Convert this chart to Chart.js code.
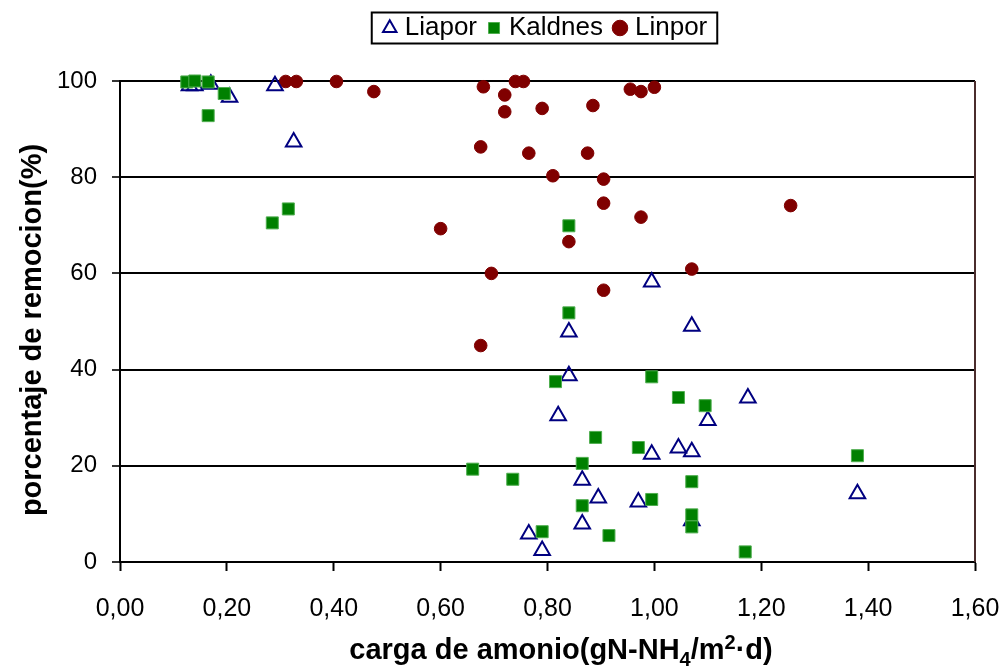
<!DOCTYPE html>
<html>
<head>
<meta charset="utf-8">
<script src="https://cdn.jsdelivr.net/npm/chart.js@4.4.1/dist/chart.umd.min.js"></script>
<style>
  html, body { margin: 0; padding: 0; background: #fff; }
  #wrap { width: 1005px; height: 668px; }
</style>
</head>
<body>
<div id="wrap"><canvas id="removalChart" width="1005" height="668"></canvas></div>
<script>
// Ammonium load (gN-NH4/m2.d) vs removal (%) per carrier
const liaporX = [0.13, 0.14, 0.17, 0.205, 0.29, 0.325, 0.765, 0.79, 0.82, 0.84, 0.84, 0.865, 0.865, 0.895, 0.97, 0.995, 0.995, 1.045, 1.07, 1.07, 1.07, 1.10, 1.175, 1.38];
const liaporY = [99, 99, 99.3, 96.6, 99, 87.3, 5.8, 2.4, 30.4, 47.8, 38.7, 17, 7.9, 13.3, 12.5, 58.2, 22.4, 23.7, 49, 22.9, 8.6, 29.4, 34.1, 14.2];

const kaldnesX = [0.125, 0.14, 0.165, 0.195, 0.165, 0.285, 0.315, 0.66, 0.735, 0.79, 0.815, 0.84, 0.84, 0.865, 0.865, 0.89, 0.915, 0.97, 0.995, 0.995, 1.045, 1.07, 1.07, 1.07, 1.095, 1.17, 1.38];
const kaldnesY = [99.8, 100, 99.8, 97.4, 92.8, 70.5, 73.4, 19.3, 17.2, 6.3, 37.5, 69.9, 51.8, 20.5, 11.7, 25.9, 5.5, 23.8, 38.5, 13.0, 34.2, 16.7, 9.8, 7.3, 32.5, 2.1, 22.1];

const linporX = [0.31, 0.33, 0.405, 0.475, 0.60, 0.675, 0.675, 0.68, 0.695, 0.72, 0.72, 0.74, 0.755, 0.765, 0.79, 0.81, 0.84, 0.875, 0.885, 0.905, 0.905, 0.905, 0.955, 0.975, 0.975, 1.00, 1.07, 1.255];
const linporY = [99.9, 99.9, 99.9, 97.8, 69.3, 86.3, 45.0, 98.8, 60.0, 97.1, 93.6, 99.9, 99.9, 85.0, 94.3, 80.3, 66.6, 85.0, 94.9, 79.6, 74.6, 56.5, 98.3, 97.8, 71.7, 98.7, 60.9, 74.1];

const xMin = 0, xMax = 1.6, xStep = 0.2;
const yMin = 0, yMax = 100, yStep = 20;

const xTitle = [
  { text: "carga de amonio(gN-NH", shift: 0 },
  { text: "4", shift: 7 },
  { text: "/m", shift: 0 },
  { text: "2", shift: -10 },
  { text: "\u00B7d)", shift: 0 },
];
const yTitle = "porcentaje de remocion(%)";

const FONT = "'Liberation Sans', Arial, sans-serif";

function toPoints(xs, ys) {
  return xs.map((x, i) => ({ x: x, y: ys[i] }));
}

// legend takes the whole band above the plot
const legendBand = {
  id: "legendBand",
  beforeInit(chart) {
    const fit = chart.legend.fit;
    chart.legend.fit = function () {
      fit.call(this);
      this.height = 81;
    };
  },
};

// legend frame, right border and both axis titles
const decorations = {
  id: "decorations",
  afterDraw(chart) {
    const ctx = chart.ctx;
    const area = chart.chartArea;
    const boxes = chart.legend.legendHitBoxes;
    ctx.save();

    if (boxes && boxes.length) {
      const first = boxes[0];
      const last = boxes[boxes.length - 1];
      const midY = first.top + first.height / 2;
      ctx.strokeStyle = "#000";
      ctx.lineWidth = 2;
      ctx.strokeRect(first.left - 16, midY - 15.5, last.left + last.width + 10 - (first.left - 16), 31);
    }

    ctx.strokeStyle = "#4a2c2c";
    ctx.lineWidth = 2;
    ctx.beginPath();
    ctx.moveTo(area.right, area.top);
    ctx.lineTo(area.right, area.bottom);
    ctx.stroke();

    // x title with subscript / superscript pieces
    ctx.fillStyle = "#000";
    ctx.textBaseline = "alphabetic";
    ctx.textAlign = "left";
    const big = "bold 29px " + FONT;
    const small = "bold 20px " + FONT;
    let total = 0;
    xTitle.forEach((p) => {
      ctx.font = p.shift ? small : big;
      total += ctx.measureText(p.text).width;
    });
    let x = 561 - total / 2;
    xTitle.forEach((p) => {
      ctx.font = p.shift ? small : big;
      ctx.fillText(p.text, x, 659 + p.shift);
      x += ctx.measureText(p.text).width;
    });

    ctx.translate(33, 330);
    ctx.rotate(-Math.PI / 2);
    ctx.font = big;
    ctx.textAlign = "center";
    ctx.textBaseline = "middle";
    ctx.fillText(yTitle, 0, 0);
    ctx.restore();
  },
};

new Chart(document.getElementById("removalChart"), {
  type: "scatter",
  data: {
    datasets: [
      {
        label: "Liapor",
        data: toPoints(liaporX, liaporY),
        pointStyle: "triangle",
        pointRadius: 9,
        borderColor: "#000080",
        backgroundColor: "rgba(0, 0, 0, 0)",
        borderWidth: 2,
        order: 1,
      },
      {
        label: "Kaldnes",
        data: toPoints(kaldnesX, kaldnesY),
        pointStyle: "rect",
        pointRadius: 8.5,
        borderColor: "#4fae4f",
        backgroundColor: "#008000",
        borderWidth: 1,
        order: 0,
      },
      {
        label: "Linpor",
        data: toPoints(linporX, linporY),
        pointStyle: "circle",
        pointRadius: 6.3,
        borderColor: "#800000",
        backgroundColor: "#800000",
        borderWidth: 1,
        order: 2,
      },
    ],
  },
  options: {
    responsive: false,
    devicePixelRatio: 1,
    animation: false,
    clip: false,
    layout: {
      padding: { left: 0, right: 30, top: 0, bottom: 0 },
    },
    plugins: {
      legend: {
        display: true,
        position: "top",
        fullSize: false,
        labels: {
          usePointStyle: true,
          boxWidth: 4,
          boxHeight: 11,
          padding: 15,
          color: "#000",
          font: { family: FONT, size: 26 },
          sort: (a, b) => a.datasetIndex - b.datasetIndex,
        },
      },
      tooltip: { enabled: false },
    },
    scales: {
      x: {
        type: "linear",
        min: xMin,
        max: xMax,
        afterFit(scale) {
          scale.height = 106;
          scale.paddingLeft = 0;
          scale.paddingRight = 0;
        },
        grid: {
          drawOnChartArea: false,
          drawTicks: true,
          tickLength: 9,
          tickWidth: 2,
          tickColor: "#000",
        },
        border: { color: "#000", width: 2 },
        ticks: {
          stepSize: xStep,
          autoSkip: false,
          maxRotation: 0,
          padding: 23,
          color: "#000",
          font: { family: FONT, size: 25 },
          callback: (v) => v.toFixed(2).replace(".", ","),
        },
      },
      y: {
        type: "linear",
        min: yMin,
        max: yMax,
        afterFit(scale) {
          scale.width = 120;
          scale.paddingTop = 0;
          scale.paddingBottom = 0;
        },
        grid: {
          color: "#000",
          lineWidth: 2,
          drawTicks: true,
          tickLength: 8,
          tickWidth: 2,
          tickColor: "#333",
        },
        border: { color: "#000", width: 2 },
        ticks: {
          stepSize: yStep,
          padding: 15,
          color: "#000",
          font: { family: FONT, size: 24 },
        },
      },
    },
  },
  plugins: [legendBand, decorations],
});
</script>
</body>
</html>
